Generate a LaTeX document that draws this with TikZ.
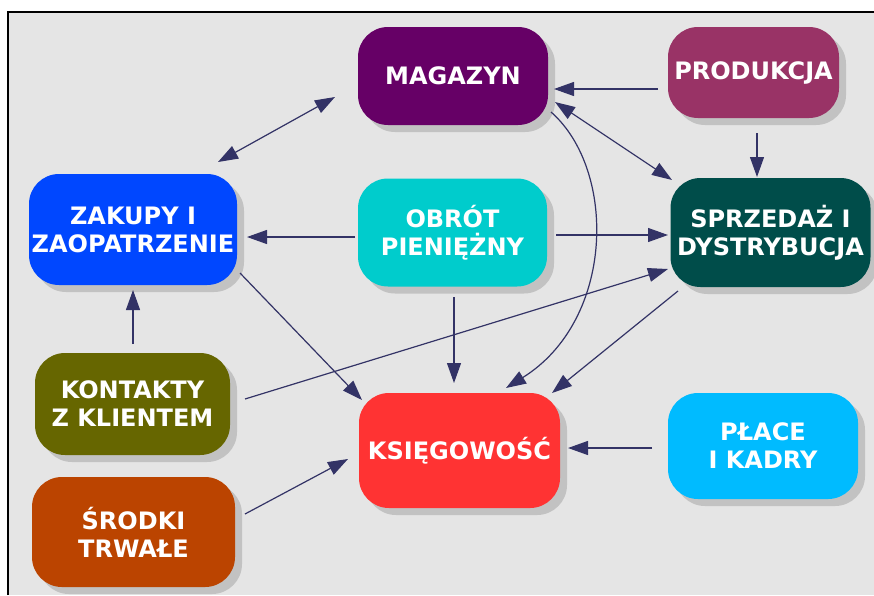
\documentclass[tikz,border=0pt]{standalone}
\usepackage{fontspec}
\setmainfont{DejaVu Sans}
\usetikzlibrary{arrows.meta,shadows}
\definecolor{bggray}{HTML}{E5E5E5}
\definecolor{shadowgray}{HTML}{C2C2C2}
\definecolor{arrowcol}{HTML}{333366}
\definecolor{cmag}{HTML}{660066}
\definecolor{cprod}{HTML}{993366}
\definecolor{czak}{HTML}{0047FF}
\definecolor{cobr}{HTML}{00CCCC}
\definecolor{csprz}{HTML}{004D4A}
\definecolor{ckont}{HTML}{666600}
\definecolor{cksie}{HTML}{FF3333}
\definecolor{cplace}{HTML}{00BBFF}
\definecolor{csrod}{HTML}{BB4400}
\tikzset{
  boxnode/.style={rounded corners=30pt, text=white, align=center, inner sep=0pt,
    font=\bfseries\fontsize{24}{28}\selectfont,
    drop shadow={shadow xshift=7pt, shadow yshift=-7pt, fill=shadowgray, opacity=1}},
  conn/.style={draw=arrowcol, line width=1.2pt, -{Triangle[length=20pt,width=14pt]}},
  dconn/.style={draw=arrowcol, line width=1.2pt, {Triangle[length=20pt,width=14pt]}-{Triangle[length=20pt,width=14pt]}}
}
\begin{document}
\begin{tikzpicture}[x=1pt,y=-1pt]
\useasboundingbox (0,0) rectangle (874,595);
\fill[bggray] (8,12) rectangle (874,595);
\draw[black, line width=1.2pt] (8,595) -- (8,12) -- (874,12);

\node[boxnode, fill=cmag, minimum width=190pt, minimum height=98pt] (mag) at (453,76) {MAGAZYN};
\node[boxnode, fill=cprod, minimum width=171pt, minimum height=91pt] (prod) at (753.5,72.5) {PRODUKCJA};
\node[boxnode, fill=czak, minimum width=208pt, minimum height=111pt] (zak) at (133,229.5) {ZAKUPY I\\ZAOPATRZENIE};
\node[boxnode, fill=cobr, minimum width=189pt, minimum height=108pt] (obr) at (452.5,232.5) {OBRÓT\\PIENIĘŻNY};
\node[boxnode, fill=csprz, minimum width=200pt, minimum height=109pt] (sprz) at (770.5,232.5) {SPRZEDAŻ I\\DYSTRYBUCJA};
\node[boxnode, fill=ckont, minimum width=195pt, minimum height=102pt] (kont) at (132.5,404) {KONTAKTY\\Z KLIENTEM};
\node[boxnode, fill=cksie, minimum width=201pt, minimum height=115pt] (ksie) at (459.5,450.5) {KSIĘGOWOŚĆ};
\node[boxnode, fill=cplace, minimum width=190pt, minimum height=106pt] (place) at (763,446) {PŁACE\\I KADRY};
\node[boxnode, fill=csrod, minimum width=203pt, minimum height=110pt] (srod) at (133.5,532) {ŚRODKI\\TRWAŁE};

% connector end points
\coordinate (zakA) at (218,162);
\coordinate (magA) at (335,97);
\coordinate (prodA) at (658,89);
\coordinate (magB) at (554,89);
\coordinate (magC) at (555,102);
\coordinate (sprzA) at (672,180);
\coordinate (prodB) at (757,133);
\coordinate (sprzB) at (757,177);
\coordinate (obrA) at (355,237);
\coordinate (zakB) at (247,237);
\coordinate (obrB) at (556,235);
\coordinate (sprzC) at (668,235);
\coordinate (zakC) at (240,273);
\coordinate (ksieA) at (362,400);
\coordinate (obrC) at (454,297);
\coordinate (ksieB) at (454,383);
\coordinate (magD) at (551,112);
\coordinate (ksieC) at (506,388);
\coordinate (sprzD) at (678,291);
\coordinate (ksieD) at (552,393);
\coordinate (kontA) at (245,399);
\coordinate (sprzE) at (668,269);
\coordinate (kontB) at (133,344);
\coordinate (zakD) at (133,290);
\coordinate (srodA) at (245,514);
\coordinate (ksieE) at (348,459);
\coordinate (placeA) at (652,448);
\coordinate (ksieF) at (568,448);

\draw[dconn] (zakA) -- (magA);
\draw[conn] (prodA) -- (magB);
\draw[dconn] (magC) -- (sprzA);
\draw[conn] (prodB) -- (sprzB);
\draw[conn] (obrA) -- (zakB);
\draw[conn] (obrB) -- (sprzC);
\draw[conn] (zakC) -- (ksieA);
\draw[conn] (obrC) -- (ksieB);
\draw[conn] (magD) .. controls (617,170) and (615,320) .. (ksieC);
\draw[conn] (sprzD) -- (ksieD);
\draw[conn] (kontA) -- (sprzE);
\draw[conn] (kontB) -- (zakD);
\draw[conn] (srodA) -- (ksieE);
\draw[conn] (placeA) -- (ksieF);
\end{tikzpicture}
\end{document}
